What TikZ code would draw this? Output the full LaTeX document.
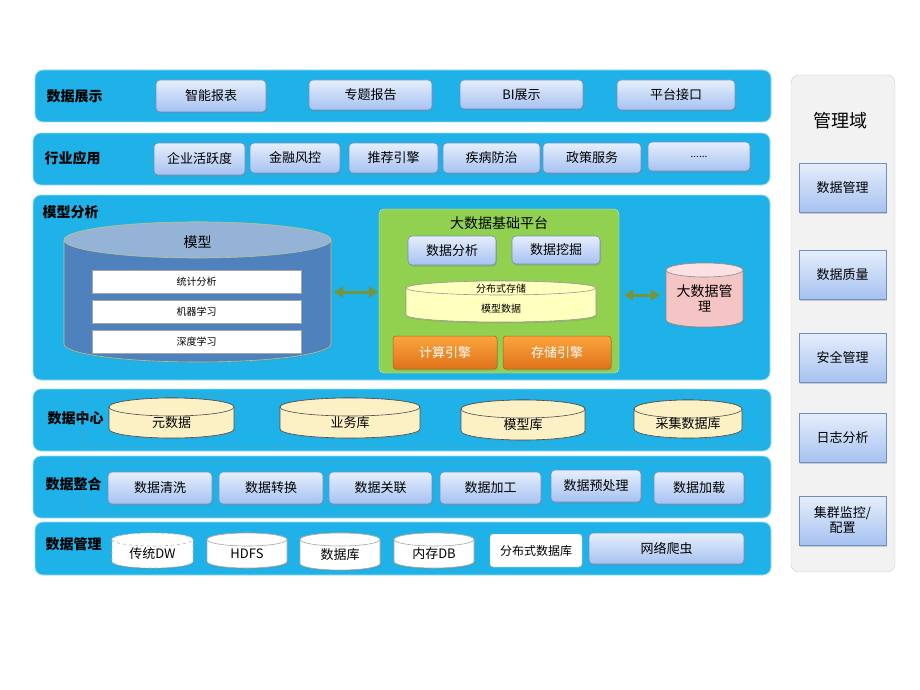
\documentclass[tikz,border=0pt]{standalone}
\usepackage{fontspec}
\setmainfont{Noto Sans CJK SC}
\usetikzlibrary{shadows,arrows.meta,positioning}

\definecolor{layerblue}{HTML}{1FB2E8}
\definecolor{btntop}{HTML}{E6EEFC}
\definecolor{btnbot}{HTML}{A6C2F1}
\definecolor{btnline}{HTML}{6F8EC2}
\definecolor{platgreen}{HTML}{92D050}
\definecolor{engtop}{HTML}{FBA43C}
\definecolor{engbot}{HTML}{E0731A}
\definecolor{storeyellow}{HTML}{FFFFBE}
\definecolor{dbyellow}{HTML}{FCF1C5}
\definecolor{modelbody}{HTML}{4F81BD}
\definecolor{modelend}{HTML}{95B3D7}
\definecolor{linkolive}{HTML}{77933C}
\definecolor{mgmtpink}{HTML}{F5C4C4}
\definecolor{mgmtend}{HTML}{FBE1E1}
\definecolor{panelgrey}{HTML}{F2F2F2}

\tikzset{
  layer/.style={draw=white!55!layerblue, fill=layerblue, rounded corners=8pt, line width=0.8pt},
  layername/.style={anchor=west, font=\bfseries\fontsize{14}{16}\selectfont},
  btn/.style={draw=btnline, line width=0.6pt, rounded corners=4pt, top color=btntop, bottom color=btnbot,
    drop shadow={opacity=0.35, shadow xshift=1pt, shadow yshift=-1.5pt},
    inner sep=0pt, font=\fontsize{13}{15}\selectfont},
  mbox/.style={btn, rounded corners=0pt, align=center, minimum width=87pt, minimum height=49pt,
    font=\fontsize{13}{15}\selectfont},
  engine/.style={draw=engbot!80!black, line width=0.5pt, rounded corners=3pt, top color=engtop, bottom color=engbot,
    drop shadow={opacity=0.3, shadow xshift=1pt, shadow yshift=-1.5pt},
    text=white, inner sep=0pt, font=\fontsize{13}{15}\selectfont},
  row/.style={draw=gray!70, fill=white, minimum width=209pt, minimum height=23pt, inner sep=0pt,
    font=\fontsize{10}{12}\selectfont},
  cylshade/.style={drop shadow={opacity=0.25, shadow xshift=1pt, shadow yshift=-1.5pt}},
  dashbox/.style={draw=black!45, dashed, rounded corners=6pt, line width=0.5pt},
  link/.style={linkolive, line width=3pt, {Triangle[length=9pt,width=11pt]-Triangle[length=9pt,width=11pt]}}
}

% [style]{name}{cx}{cy}{width}{height}{ellipse ry}{end fill}{text}
\newcommand\dbcyl[9][]{%
  \pgfmathsetmacro\dbrx{#5/2}%
  \pgfmathsetmacro\dbtop{#4-#6/2+#7}%
  \pgfmathsetmacro\dbbot{#4+#6/2-#7}%
  \path[line width=0.6pt, #1, cylshade] (#3-\dbrx,\dbtop) -- (#3-\dbrx,\dbbot)
    arc[start angle=180, end angle=360, x radius=\dbrx*1pt, y radius=#7*1pt]
    -- (#3+\dbrx,\dbtop)
    arc[start angle=0, end angle=180, x radius=\dbrx*1pt, y radius=#7*1pt] -- cycle;
  \path[line width=0.6pt, #1, fill=#8] (#3,\dbtop) ellipse[x radius=\dbrx*1pt, y radius=#7*1pt];
  \node[inner sep=0pt, minimum width=#5pt, minimum height=#6pt] (#2) at (#3,#4) {};
  \if\relax\detokenize{#9}\relax\else
    \node[align=center, inner sep=0pt, font=\fontsize{13}{15}\selectfont] (#2txt) at (#3,{#4+#7/2}) {#9};
  \fi
}

\begin{document}
\begin{tikzpicture}[x=1pt,y=-1pt]
\useasboundingbox (0,0) rectangle (920,690);

% layers
\path[layer] (35,70) rectangle (771,122);
\path[layer] (33,133) rectangle (770,185);
\path[layer] (33,195) rectangle (770,380);
\path[layer] (33,389) rectangle (771,451);
\path[layer] (33,456) rectangle (771,518);
\path[layer] (35,522) rectangle (771,575);

\node[layername] (l1) at (43,96) {数据展示};
\node[layername] (l2) at (41,158) {行业应用};
\node[layername] (l3) at (39,212) {模型分析};
\node[layername] (l4) at (44,418) {数据中心};
\node[layername] (l5) at (42,484) {数据整合};
\node[layername] (l6) at (42,544) {数据管理};

% 数据展示
\foreach \nm/\cx/\cy/\bw/\bh/\txt in {smart/211/96/110pt/32pt/智能报表, topic/370.5/95/123pt/30pt/专题报告,
    bi/521.5/94.5/123pt/29pt/BI展示, api/676/95/118pt/30pt/平台接口}
  \node[btn, minimum width=\bw, minimum height=\bh] (\nm) at (\cx,\cy) {\txt};

% 行业应用
\foreach \nm/\cx/\cy/\bw/\bh/\txt in {firm/199.5/159/91pt/32pt/企业活跃度, risk/295/158/90pt/30pt/金融风控,
    rec/393.5/158/89pt/30pt/推荐引擎, care/491.5/158/97pt/30pt/疾病防治, policy/592/158/98pt/30pt/政策服务}
  \node[btn, minimum width=\bw, minimum height=\bh] (\nm) at (\cx,\cy) {\txt};
\node[btn, minimum width=102pt, minimum height=29pt, font=\fontsize{10}{12}\selectfont] (more) at (699,156.5) {......};

% 模型分析
\dbcyl[draw=linkolive!55, fill=modelbody]{model}{197.5}{292}{267}{140}{18}{modelend}{}
\node[font=\fontsize{14}{16}\selectfont] (modeltitle) at (197.5,242) {模型};
\node[row] (stat) at (196.5,282) {统计分析};
\node[row] (ml) at (196.5,311.5) {机器学习};
\node[row] (dl) at (196.5,341.5) {深度学习};

\node[draw=white!60!platgreen, fill=platgreen, rounded corners=5pt, minimum width=240pt, minimum height=164pt] (plat) at (499,291) {};
\node[font=\fontsize{14}{16}\selectfont] (plattitle) at (499,223) {大数据基础平台};
\node[btn, minimum width=88pt, minimum height=29pt] (ana) at (452,250.5) {数据分析};
\node[btn, minimum width=88pt, minimum height=28pt] (mine) at (556,250) {数据挖掘};
\dbcyl[draw=black!40, fill=storeyellow]{store}{501}{301.5}{190}{41}{7}{storeyellow}{}
\node[font=\fontsize{10}{12}\selectfont] (storetitle) at (501,289) {分布式存储};
\node[font=\fontsize{10}{12}\selectfont] (storedata) at (501,309) {模型数据};
\node[engine, minimum width=104pt, minimum height=33pt] (calc) at (445,352.5) {计算引擎};
\node[engine, minimum width=108pt, minimum height=33pt] (keep) at (557,352.5) {存储引擎};

\dbcyl[draw=black!45, fill=mgmtpink]{bigmgmt}{704.5}{295}{77}{64}{7}{mgmtend}{\fontsize{14}{18}\selectfont 大数据管\\理}

\draw[link, shorten <=3pt, shorten >=1pt] (model.east) -- (model.east -| plat.west);
\draw[link, shorten <=5pt, shorten >=6pt] (plat.east |- bigmgmt.west) -- (bigmgmt.west);

% 数据中心
\draw[dashbox] (82,395) rectangle (765,447);
\dbcyl[draw=black!70, fill=dbyellow]{meta}{171.5}{418}{125}{40}{9}{dbyellow}{元数据}
\dbcyl[draw=black!70, fill=dbyellow]{biz}{350}{418}{140}{40}{9}{dbyellow}{业务库}
\dbcyl[draw=black!70, fill=dbyellow]{mdl}{523}{420}{124}{40}{9}{dbyellow}{模型库}
\dbcyl[draw=black!70, fill=dbyellow]{coll}{688}{419}{108}{38}{9}{dbyellow}{采集数据库}

% 数据整合
\draw[dashbox] (82,462) rectangle (765,515);
\foreach \nm/\cx/\cy/\bw/\txt in {clean/160/488/104pt/数据清洗, conv/271/488/104pt/数据转换,
    join/380.5/488/103pt/数据关联, proc/490.5/488/101pt/数据加工, pre/596/486/90pt/数据预处理,
    load/699/488/90pt/数据加载}
  \node[btn, minimum width=\bw, minimum height=32pt] (\nm) at (\cx,\cy) {\txt};

% 数据管理
\dbcyl[draw=black!30, dashed, fill=white]{dw}{152.5}{550.5}{81}{35}{6.5}{white}{传统DW}
\dbcyl[draw=black!35, fill=white]{hdfs}{247}{550.5}{80}{35}{6.5}{white}{HDFS}
\dbcyl[draw=black!35, fill=white]{rdb}{340}{551.5}{80}{37}{6.5}{white}{数据库}
\dbcyl[draw=black!35, fill=white]{mem}{434}{550.5}{80}{35}{6.5}{white}{内存DB}
\node[draw=black!30, fill=white, rounded corners=3pt, minimum width=92pt, minimum height=33pt, inner sep=0pt,
  font=\fontsize{12}{14}\selectfont] (dist) at (536,550.5) {分布式数据库};
\node[btn, minimum width=155pt, minimum height=31pt] (crawl) at (666.5,548.5) {网络爬虫};

% 管理域
\node[draw=black!20, fill=panelgrey, rounded corners=8pt, minimum width=104pt, minimum height=497pt] (domain) at (843,323.5) {};
\node[font=\fontsize{18}{20}\selectfont] (domaintitle) at (840,121) {管理域};
\node[mbox] (m1) at (842.5,187.5) {数据管理};
\node[mbox] (m2) at (842.5,274.5) {数据质量};
\node[mbox] (m3) at (842.5,357.5) {安全管理};
\node[mbox] (m4) at (842.5,437.5) {日志分析};
\node[mbox] (m5) at (842.5,520.5) {集群监控/\\配置};

\end{tikzpicture}
\end{document}
